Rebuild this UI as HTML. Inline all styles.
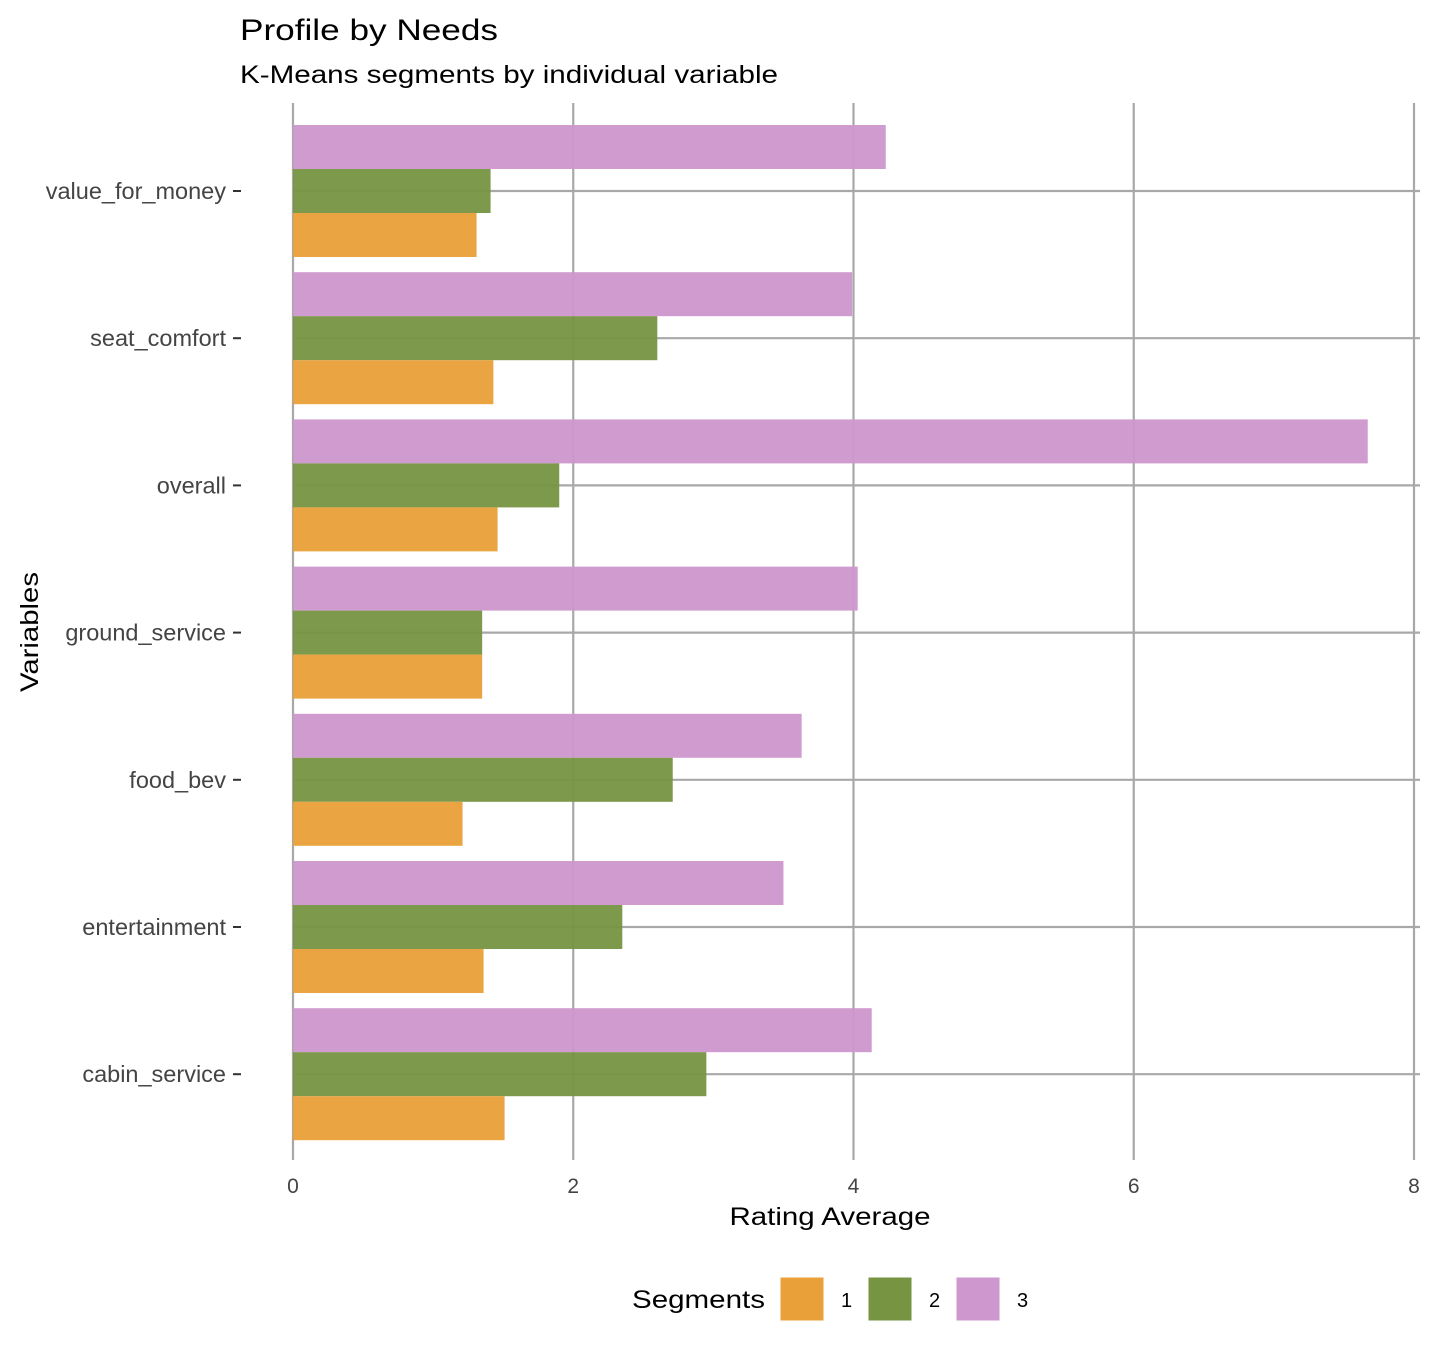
<!DOCTYPE html>
<html><head><meta charset="utf-8"><style>
body{margin:0;background:#fff;font-family:"Liberation Sans",Arial,sans-serif;}
</style></head><body>
<svg width="1436" height="1350" viewBox="0 0 1436 1350" style="font-family:'Liberation Sans',Arial,sans-serif">
<text x="240" y="40" font-size="30" fill="#000" textLength="258" lengthAdjust="spacingAndGlyphs">Profile by Needs</text>
<text x="240" y="83" font-size="25" fill="#000" textLength="538" lengthAdjust="spacingAndGlyphs">K-Means segments by individual variable</text>
<g id="grid"></g>
<g id="bars"></g>
<g id="axes"></g>
<text x="830" y="1225" font-size="25" text-anchor="middle" textLength="201" lengthAdjust="spacingAndGlyphs">Rating Average</text>
<text transform="translate(38,632) rotate(-90)" font-size="25" text-anchor="middle" textLength="120" lengthAdjust="spacingAndGlyphs">Variables</text>
<g>
<text x="632" y="1308" font-size="25" textLength="133" lengthAdjust="spacingAndGlyphs">Segments</text>
<g><rect x="780" y="1277" width="44" height="44" fill="#E9A038" stroke="#fff"/><text x="841" y="1307" font-size="20">1</text></g>
<g><rect x="868" y="1277" width="44" height="44" fill="#769442" stroke="#fff"/><text x="929" y="1307" font-size="20">2</text></g>
<g><rect x="956" y="1277" width="44" height="44" fill="#CE97CD" stroke="#fff"/><text x="1017" y="1307" font-size="20">3</text></g>
</g>
</svg>
<script>
const categories=["value_for_money","seat_comfort","overall","ground_service","food_bev","entertainment","cabin_service"];
const seg1=[1.31,1.43,1.46,1.35,1.21,1.36,1.51];
const seg2=[1.41,2.60,1.90,1.35,2.71,2.35,2.95];
const seg3=[4.23,3.99,7.67,4.03,3.63,3.50,4.13];
const xTicks=[0,2,4,6,8];
const colors=["#E9A038","#769442","#CE97CD"];
const NS="http://www.w3.org/2000/svg";
const x0=293,x1=1414,xMax=8;
const X=v=>x0+(x1-x0)*v/xMax;
const Y=i=>191+i*147.2;
const bh=44;
function mk(t,a,p){const e=document.createElementNS(NS,t);for(const k in a)e.setAttribute(k,a[k]);p.appendChild(e);return e;}
const grid=document.getElementById('grid'),bars=document.getElementById('bars'),axes=document.getElementById('axes');
xTicks.forEach(t=>{
 const l=mk('line',{x1:X(t),x2:X(t),y1:103,y2:1160,stroke:'#a8a8a8','stroke-width':2.2},grid);
 
 
 const tx=mk('text',{x:X(t),y:1193,'font-size':21,fill:'#444','text-anchor':'middle'},axes);
 tx.textContent=t;
 
 
});
categories.forEach((c,i)=>{
 const y=Y(i);
 const l=mk('line',{x1:x0,x2:1420,y1:y,y2:y,stroke:'#a8a8a8','stroke-width':2.2},grid);
 
 
 const tk=mk('line',{x1:233,x2:241,y1:y,y2:y,stroke:'#333','stroke-width':2},axes);
 
 
 const tx=mk('text',{x:226,y:y+8,'font-size':23.5,fill:'#444','text-anchor':'end'},axes);
 tx.textContent=c;
 
 
 [seg3,seg2,seg1].forEach((s,j)=>{
  const r=mk('rect',{x:X(0),y:y-66+j*bh,width:X(s[i])-X(0),height:bh,fill:colors[2-j],'fill-opacity':0.95},bars);
  
  
 });
});
</script>
</body></html>
